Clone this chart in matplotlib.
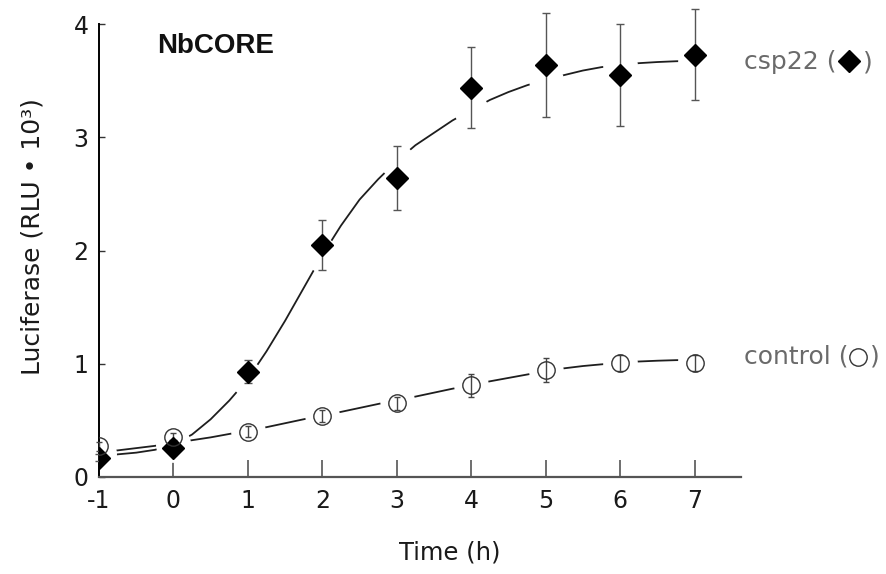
import matplotlib
matplotlib.use('Agg')
import matplotlib.pyplot as plt

plt.rcParams['font.family'] = ['DejaVu Sans']

# ---- data ----
time_h = [-1, 0, 1, 2, 3, 4, 5, 6, 7]
csp22_mean = [0.17, 0.26, 0.93, 2.05, 2.64, 3.44, 3.64, 3.55, 3.73]
csp22_err = [0.03, 0.07, 0.10, 0.22, 0.28, 0.36, 0.46, 0.45, 0.40]
control_mean = [0.27, 0.35, 0.40, 0.54, 0.65, 0.81, 0.945, 1.01, 1.01]
control_err = [0.04, 0.04, 0.05, 0.05, 0.06, 0.10, 0.11, 0.07, 0.07]

# fitted curves
fit_x = [-1, -0.75, -0.5, -0.25, 0, 0.25, 0.5, 0.75, 1, 1.25, 1.5, 1.75, 2,
         2.25, 2.5, 2.75, 3, 3.25, 3.5, 3.75, 4, 4.25, 4.5, 4.75, 5, 5.25,
         5.5, 5.75, 6, 6.25, 6.5, 6.75, 7]
csp22_fit = [0.19, 0.20, 0.215, 0.24, 0.285, 0.375, 0.51, 0.675, 0.865, 1.11,
             1.38, 1.67, 1.96, 2.22, 2.45, 2.63, 2.79, 2.93, 3.04, 3.15, 3.24,
             3.33, 3.40, 3.46, 3.51, 3.55, 3.59, 3.62, 3.64, 3.655, 3.665,
             3.672, 3.677]
control_fit = [0.215, 0.235, 0.255, 0.275, 0.30, 0.325, 0.35, 0.38, 0.41,
               0.44, 0.475, 0.51, 0.545, 0.575, 0.61, 0.645, 0.68, 0.71, 0.745,
               0.78, 0.81, 0.845, 0.875, 0.905, 0.935, 0.96, 0.98, 0.995, 1.01,
               1.02, 1.027, 1.032, 1.035]

x_ticks = [-1, 0, 1, 2, 3, 4, 5, 6, 7]
y_ticks = [0, 1, 2, 3, 4]

fig = plt.figure(figsize=(8.87, 5.74), dpi=100)
ax = fig.add_axes([0.1116, 0.169, 0.7235, 0.789])

line_col = '#1e1e1e'
ax.plot(fit_x, csp22_fit, color=line_col, lw=1.3, zorder=2)
ax.plot(fit_x, control_fit, color=line_col, lw=1.3, zorder=2)

# white breaks in the fit lines where they pass each time point (every 4th sample is an integer hour)
ax.plot(fit_x[::4], csp22_fit[::4], ls='none', marker='o', ms=25, mfc='white', mec='none', zorder=2.1)
ax.plot(fit_x[::4], control_fit[::4], ls='none', marker='o', ms=25, mfc='white', mec='none', zorder=2.1)

eb1 = ax.errorbar(time_h, csp22_mean, yerr=csp22_err, fmt='none', ecolor='#555555',
                  elinewidth=1.0, capsize=2.6, capthick=1.0, zorder=2.6)
eb2 = ax.errorbar(time_h, control_mean, yerr=control_err, fmt='none', ecolor='#444444',
                  elinewidth=1.0, capsize=2.0, capthick=1.0, zorder=2.6)
for eb in (eb1, eb2):
    for art in eb.get_children():
        art.set_clip_on(False)

ax.plot(time_h, csp22_mean, ls='none', marker='D', ms=11.5, color='black', zorder=3)
ax.plot(time_h, control_mean, ls='none', marker='o', ms=12.5, mfc='none',
        mec='#333333', mew=1.0, zorder=3.1)

ax.set_xlim(-1, 7.62)
ax.set_ylim(0, 4)
ax.set_xticks(x_ticks)
ax.set_yticks(y_ticks)
ax.set_xticklabels([str(v) for v in x_ticks])
ax.set_yticklabels([str(v) for v in y_ticks])

for s in ['top', 'right']:
    ax.spines[s].set_visible(False)
ax.spines['left'].set_color('black')
ax.spines['left'].set_linewidth(1.4)
ax.spines['bottom'].set_color('#555555')
ax.spines['bottom'].set_linewidth(1.6)

ax.tick_params(axis='x', direction='in', length=12, width=1.2, color='#555555',
               pad=9, labelsize=17, labelcolor='#1a1a1a')
ax.tick_params(axis='y', direction='in', length=4.5, width=1.0, color='#333333',
               pad=7.5, labelsize=17, labelcolor='#1a1a1a')

ax.set_xlabel('Time (h)', fontsize=17.5, color='#1a1a1a')
ax.xaxis.label.set_va('baseline')
ax.xaxis.set_label_coords(0.547, -0.183)
ax.set_ylabel('Luciferase (RLU \u2022 10\u00b3)', fontsize=18, color='#1a1a1a')
ax.yaxis.label.set_va('baseline')
ax.yaxis.set_label_coords(-0.092, 0.53)

ax.text(-0.223, 3.742, 'NbCORE', fontsize=20, fontweight='bold', color='#111111',
        ha='left', va='baseline', family=['Liberation Sans', 'DejaVu Sans'])

gray = '#6a6a6a'
ax.text(7.66, 3.60, 'csp22 (', fontsize=18, color=gray, ha='left', va='baseline', clip_on=False)
ax.plot([9.08], [3.67], marker='D', ms=11.5, color='black', ls='none', clip_on=False)
ax.text(9.26, 3.60, ')', fontsize=18, color=gray, ha='left', va='baseline', clip_on=False)

ax.text(7.66, 1.006, 'control (', fontsize=18, color=gray, ha='left', va='baseline', clip_on=False)
ax.plot([9.2], [1.063], marker='o', ms=12.5, mfc='none', mec='#333333', mew=1.0,
        ls='none', clip_on=False)
ax.text(9.36, 1.006, ')', fontsize=18, color=gray, ha='left', va='baseline', clip_on=False)

fig.savefig('out.png', dpi=100, facecolor='white')
